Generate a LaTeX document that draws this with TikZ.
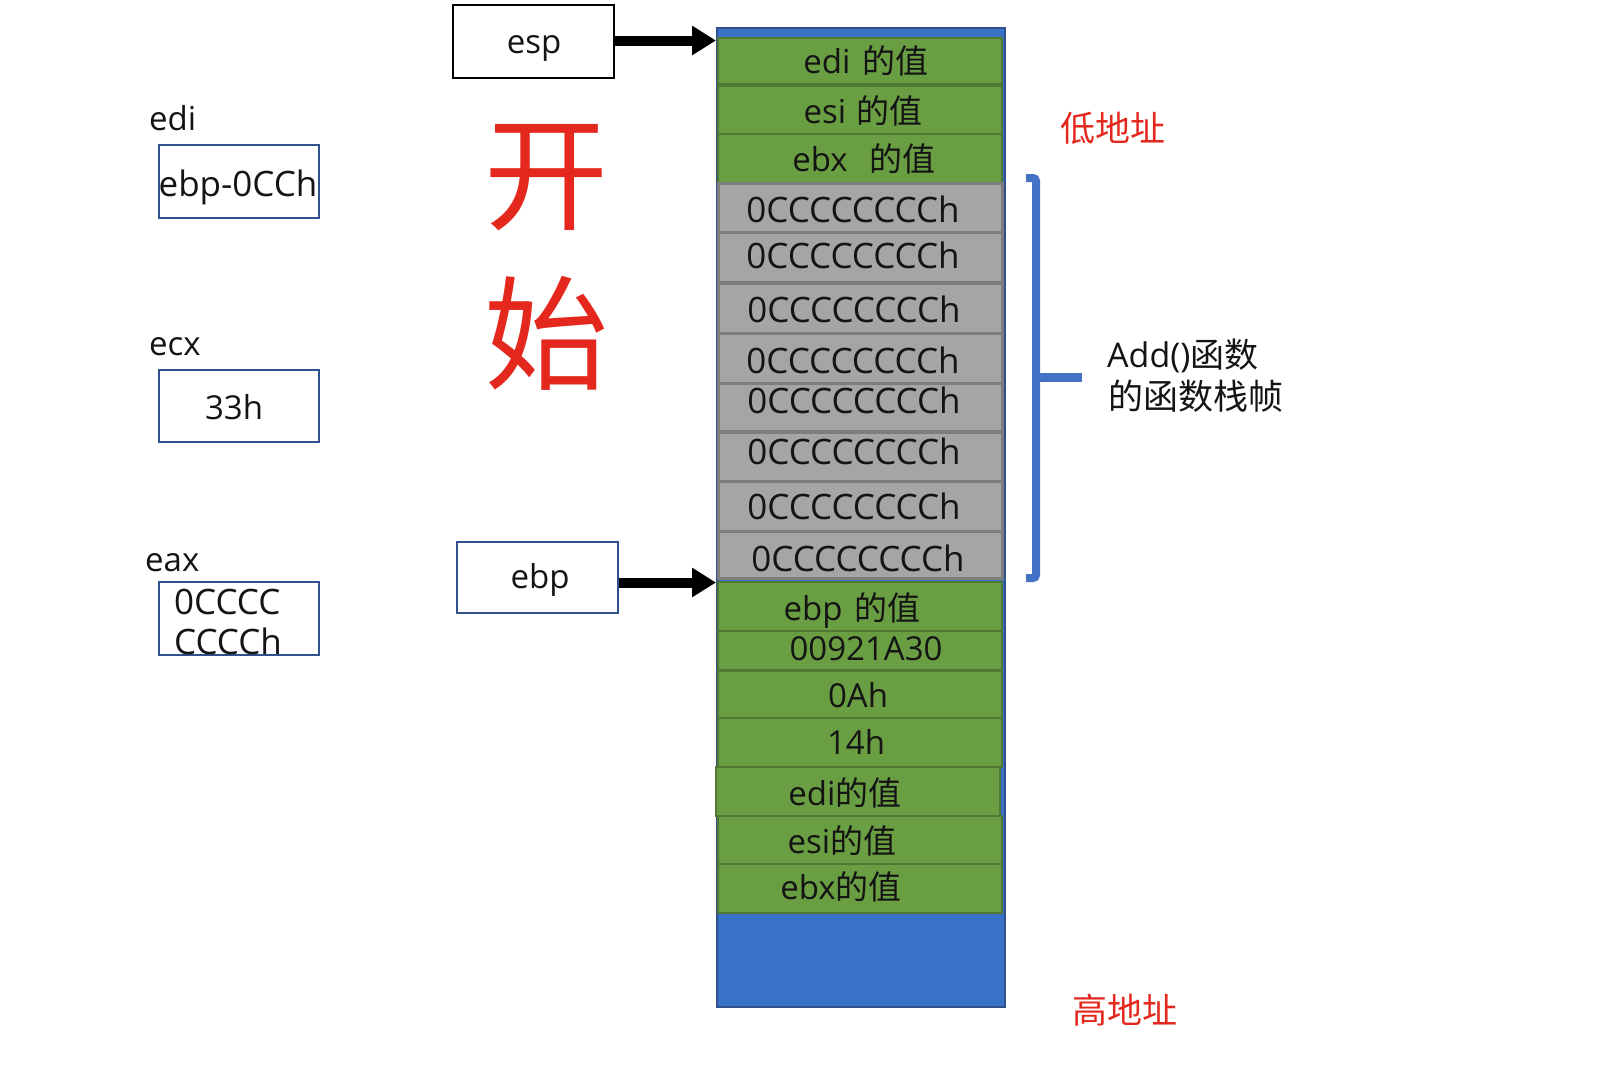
\documentclass[tikz,border=0pt]{standalone}
\usepackage{fontspec}
\setmainfont{Open Sans}
\newfontfamily\cjk{Noto Sans CJK SC}
\usetikzlibrary{arrows.meta}
\definecolor{stkgreen}{RGB}{106,158,66}
\definecolor{stkgreenb}{RGB}{80,120,50}
\definecolor{stkgray}{RGB}{165,165,165}
\definecolor{stkgrayb}{RGB}{125,125,125}
\definecolor{stkblue}{RGB}{58,114,200}
\definecolor{stkblueb}{RGB}{47,82,143}
\definecolor{bracecol}{RGB}{68,114,196}
\definecolor{addrred}{RGB}{228,40,30}
\definecolor{txtcol}{RGB}{20,20,20}
\begin{document}
\begin{tikzpicture}[x=1pt,y=-1pt,
  cell/.style={draw, line width=2pt, minimum width=284pt, inner sep=0pt, anchor=north west},
  gcell/.style={cell, fill=stkgreen, draw=stkgreenb},
  ccell/.style={cell, fill=stkgray, draw=stkgrayb, line width=3pt},
  txt/.style={inner sep=0pt, text=txtcol, font=\fontsize{33}{40}\selectfont, text height=24pt, text depth=0pt},
  ctxt/.style={txt, font=\fontsize{35}{40}\selectfont, text height=25pt},
  regbox/.style={draw=stkblueb, line width=2pt, minimum width=160pt, minimum height=73pt, inner sep=0pt, anchor=north west},
  ptr/.style={line width=10pt, -{Triangle[length=24pt,width=28pt]}},
  addr/.style={inner sep=0pt, text=addrred, font=\cjk\fontsize{35}{40}\selectfont},
  bigred/.style={inner sep=0pt, text=addrred, font=\cjk\fontsize{124}{130}\selectfont, anchor=base},
]
\useasboundingbox (0,0) rectangle (1600,1080);

% stack background
\node[draw=stkblueb, fill=stkblue, line width=2pt, minimum width=288pt, minimum height=979pt, anchor=north west, inner sep=0pt] (stack) at (716,27) {};

% green rows (top)
\node[gcell, minimum height=46pt] (r1) at (717,37) {};
\node[gcell, minimum height=48pt] (r2) at (717,85) {};
\node[gcell, minimum height=49pt] (r3) at (717,133) {};
% gray rows
\node[ccell, minimum height=49pt] (r4) at (717,182) {};
\node[ccell, minimum height=50pt] (r5) at (717,231) {};
\node[ccell, minimum height=51pt] (r6) at (717,282) {};
\node[ccell, minimum height=50pt] (r7) at (717,332) {};
\node[ccell, minimum height=48pt] (r8) at (717,382) {};
\node[ccell, minimum height=50pt] (r9) at (717,431) {};
\node[ccell, minimum height=50pt] (r10) at (717,480) {};
\node[ccell, minimum height=47pt] (r11) at (717,530) {};
% green rows (bottom)
\node[gcell, minimum height=49pt] (r12) at (717,581) {};
\node[gcell, minimum height=39pt] (r13) at (717,630) {};
\node[gcell, minimum height=47pt] (r14) at (717,670) {};
\node[gcell, minimum height=49pt] (r15) at (717,717) {};
\node[gcell, minimum height=49pt] (r16) at (715,766) {};
\node[gcell, minimum height=48pt] (r17) at (717,815) {};
\node[gcell, minimum height=49pt] (r18) at (717,863) {};

% row texts
\node[txt] (t1) at (866,61) {edi\hspace{12pt}{\cjk 的值}};
\node[txt] (t2) at (863,111) {esi\hspace{10pt}{\cjk 的值}};
\node[txt] (t3) at (864,159) {ebx\hspace{22pt}{\cjk 的值}};
\node[ctxt] (t4) at (853,210) {0CCCCCCCCh};
\node[ctxt] (t5) at (853,256) {0CCCCCCCCh};
\node[ctxt] (t6) at (854,310) {0CCCCCCCCh};
\node[ctxt] (t7) at (853,361) {0CCCCCCCCh};
\node[ctxt] (t8) at (854,401) {0CCCCCCCCh};
\node[ctxt] (t9) at (854,452) {0CCCCCCCCh};
\node[ctxt] (t10) at (854,507) {0CCCCCCCCh};
\node[ctxt] (t11) at (858,559) {0CCCCCCCCh};
\node[txt] (t12) at (852,608) {ebp\hspace{12pt}{\cjk 的值}};
\node[txt] (t13) at (866,648) {00921A30};
\node[txt] (t14) at (858,695) {0Ah};
\node[txt] (t15) at (856,742) {14h};
\node[txt] (t16) at (845,793) {edi{\cjk 的值}};
\node[txt] (t17) at (842,841) {esi{\cjk 的值}};
\node[txt] (t18) at (841,887) {ebx{\cjk 的值}};

% register boxes
\node[txt, anchor=west] (ledi) at (149,118) {edi};
\node[regbox] (bedi) at (158,144) {};
\node[ctxt] (vedi) at (238,184) {ebp-0CCh};
\node[txt, anchor=west] (lecx) at (149,343) {ecx};
\node[regbox, minimum height=72pt] (becx) at (158,369) {};
\node[txt] (vecx) at (234,407) {33h};
\node[txt, anchor=west] (leax) at (145,559) {eax};
\node[regbox] (beax) at (158,581) {};
\node[ctxt, anchor=west] (veax1) at (174,602) {0CCCC};
\node[ctxt, anchor=west] (veax2) at (174,642) {CCCCh};

% pointer boxes
\node[draw=black, line width=2pt, minimum width=161pt, minimum height=73pt, inner sep=0pt] (esp) at (533.5,41.5) {};
\node[txt] (tesp) at (534,41) {esp};
\node[draw=stkblueb, line width=2pt, minimum width=161pt, minimum height=71pt, inner sep=0pt] (ebp) at (537.5,577.5) {};
\node[txt] (tebp) at (540,576) {ebp};

\draw[ptr] ([yshift=1pt]esp.east) -- ([yshift=1pt]esp.east -| stack.west);
\draw[ptr] ([yshift=-5pt]ebp.east) -- ([yshift=-5pt]ebp.east -| stack.west);

% big red text
\node[bigred] (kai) at (546,220) {开};
\node[bigred] (shi) at (546,380) {始};

% address labels
\node[addr] (low) at (1113,128) {低地址};
\node[addr] (high) at (1125,1010) {高地址};

% brace
\coordinate (bt) at (1036,178);
\coordinate (bb) at (1036,578);
\coordinate (bm) at (1036,377);
\coordinate (btip) at (1082,377);
\draw[bracecol, line width=8pt, rounded corners=3pt] (1026,178) -- (bt) -- (bb) -- (1026,578);
\draw[bracecol, line width=9pt] (bm) -- (btip);

\node[txt, anchor=west, font=\fontsize{34}{40}\selectfont] (fa) at (1107,355) {Add(){\cjk 函数}};
\node[txt, anchor=west, font=\fontsize{35}{40}\selectfont] (fb) at (1108,397) {{\cjk 的函数栈帧}};
\end{tikzpicture}
\end{document}
